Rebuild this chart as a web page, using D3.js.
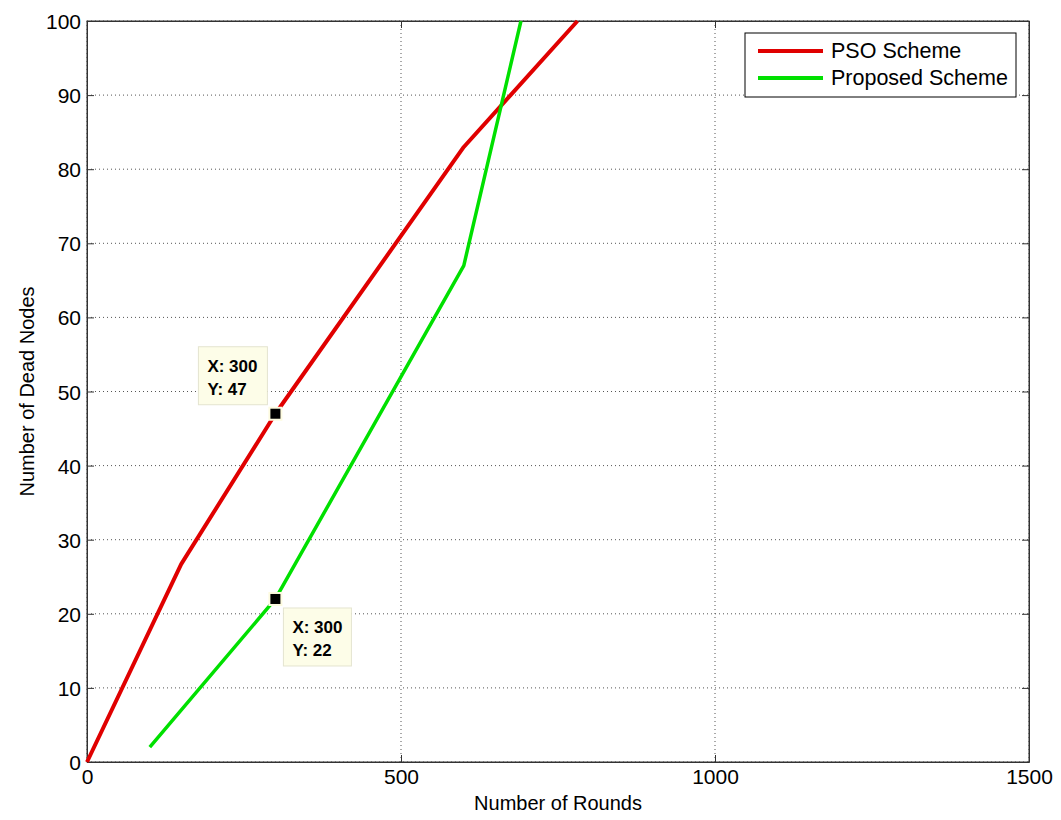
<!DOCTYPE html>
<html>
<head>
<meta charset="utf-8">
<script src="https://cdn.jsdelivr.net/npm/d3@7"></script>
<style>
  body { margin: 0; background: #fff; }
  svg text { font-family: "Liberation Sans", Arial, sans-serif; fill: #000; }
</style>
</head>
<body>
<svg id="chart" width="1061" height="820"></svg>
<script>
// data
var psoRounds = [0, 150, 300, 600, 781];
var psoDead = [0, 26.7, 47, 83, 100];
var propRounds = [100, 300, 600, 691];
var propDead = [2, 22, 67, 100];
var xTicks = [0, 500, 1000, 1500];
var yTicks = [0, 10, 20, 30, 40, 50, 60, 70, 80, 90, 100];
var seriesNames = ["PSO Scheme", "Proposed Scheme"];
var seriesColors = ["#e00000", "#00e000"];
var tipPoints = [{x: 300, y: 47, seriesIdx: 0}, {x: 300, y: 22, seriesIdx: 1}];

let svg = d3.select("svg#chart");

let margin = {top: 21, right: 32, bottom: 58, left: 87};
let plotWidth = 1061 - margin.left - margin.right;
let plotHeight = 820 - margin.top - margin.bottom;

let xScale = d3.scaleLinear().domain([0, 1500]).range([0, plotWidth]);
let yScale = d3.scaleLinear().domain([0, 100]).range([plotHeight, 0]);

let plot = svg.append("g").attr("transform", "translate(" + margin.left + "," + margin.top + ")");

// dotted grid
plot.append("g")
    .selectAll("line.vgrid")
    .data(xTicks)
    .enter().append("line")
    .attr("x1", d => xScale(d)).attr("x2", d => xScale(d))
    .attr("y1", 0).attr("y2", plotHeight)
    .attr("stroke", "#555").attr("stroke-width", 1)
    .attr("stroke-dasharray", "1,3");

plot.append("g")
    .selectAll("line.hgrid")
    .data(yTicks)
    .enter().append("line")
    .attr("x1", 0).attr("x2", plotWidth)
    .attr("y1", d => yScale(d)).attr("y2", d => yScale(d))
    .attr("stroke", "#555").attr("stroke-width", 1)
    .attr("stroke-dasharray", "1,3");

// axes, matlab style ticks pointing inward
let xAxis = d3.axisBottom(xScale).tickValues(xTicks).tickFormat(d3.format("d"))
    .tickSizeInner(-7).tickSizeOuter(0).tickPadding(7);
let yAxis = d3.axisLeft(yScale).tickValues(yTicks).tickFormat(d3.format("d"))
    .tickSizeInner(-7).tickSizeOuter(0).tickPadding(6);
let xTop = d3.axisTop(xScale).tickValues(xTicks).tickSizeInner(-7).tickSizeOuter(0).tickFormat("");
let yRight = d3.axisRight(yScale).tickValues(yTicks).tickSizeInner(-7).tickSizeOuter(0).tickFormat("");

let xGroup = plot.append("g").attr("transform", "translate(0," + plotHeight + ")").call(xAxis);
let yGroup = plot.append("g").call(yAxis);
plot.append("g").call(xTop);
plot.append("g").attr("transform", "translate(" + plotWidth + ",0)").call(yRight);

plot.selectAll(".domain").attr("stroke", "#333");
plot.selectAll(".tick line").attr("stroke", "#333");
xGroup.selectAll("text").style("font-size", "21px").attr("fill", "#000");
yGroup.selectAll("text").style("font-size", "21px").attr("fill", "#000").attr("dy", "0.36em");

// box
plot.append("rect")
    .attr("x", 0).attr("y", 0)
    .attr("width", plotWidth).attr("height", plotHeight)
    .attr("fill", "none").attr("stroke", "#333").attr("stroke-width", 1);

// lines
let line = d3.line().x(d => xScale(d[0])).y(d => yScale(d[1]));
let seriesData = [d3.zip(psoRounds, psoDead), d3.zip(propRounds, propDead)];

seriesData.forEach(function (pts, i) {
    plot.append("path")
        .datum(pts)
        .attr("d", line)
        .attr("fill", "none")
        .attr("stroke", seriesColors[i])
        .attr("stroke-width", i == 0 ? 4 : 3.5)
        .attr("stroke-linejoin", "round");
});

// data tips
let tipBoxes = [
    {dx: -77, dy: -67, w: 69, h: 58},
    {dx: 8, dy: 9, w: 68, h: 58}
];
tipPoints.forEach(function (p, i) {
    let px = xScale(p.x), py = yScale(p.y);
    let b = tipBoxes[i];
    plot.append("rect")
        .attr("x", px + b.dx).attr("y", py + b.dy)
        .attr("width", b.w).attr("height", b.h)
        .attr("fill", "#fdfde8").attr("stroke", "#e4e4d0").attr("stroke-width", 1);
    plot.append("text")
        .attr("x", px + b.dx + 9).attr("y", py + b.dy + 25)
        .style("font-size", "17px").style("font-weight", "bold")
        .text("X: " + p.x);
    plot.append("text")
        .attr("x", px + b.dx + 9).attr("y", py + b.dy + 48)
        .style("font-size", "17px").style("font-weight", "bold")
        .text("Y: " + p.y);
    plot.append("rect")
        .attr("x", px - 7).attr("y", py - 7)
        .attr("width", 14).attr("height", 14)
        .attr("fill", "#fdfbe0");
    plot.append("rect")
        .attr("x", px - 5).attr("y", py - 5)
        .attr("width", 10).attr("height", 10)
        .attr("fill", "#000");
});

// legend
let legend = svg.append("g").attr("transform", "translate(745,33)");
legend.append("rect")
    .attr("width", 271).attr("height", 64)
    .attr("fill", "#fff").attr("stroke", "#000").attr("stroke-width", 1);
seriesNames.forEach(function (name, i) {
    let ly = 18 + i * 27;
    legend.append("line")
        .attr("x1", 13).attr("x2", 78)
        .attr("y1", ly).attr("y2", ly)
        .attr("stroke", seriesColors[i]).attr("stroke-width", 4);
    legend.append("text")
        .attr("x", 86).attr("y", ly + 7)
        .style("font-size", "21.5px")
        .text(name);
});

// axis titles, centred on the axes like matlab does
svg.append("text")
    .attr("x", margin.left + plotWidth / 2)
    .attr("y", 810)
    .style("text-anchor", "middle")
    .style("font-size", "20px")
    .text("Number of Rounds");

svg.append("text")
    .attr("transform", "translate(34," + (margin.top + plotHeight / 2) + ") rotate(-90)")
    .style("text-anchor", "middle")
    .style("font-size", "20px")
    .text("Number of Dead Nodes");
</script>
</body>
</html>
